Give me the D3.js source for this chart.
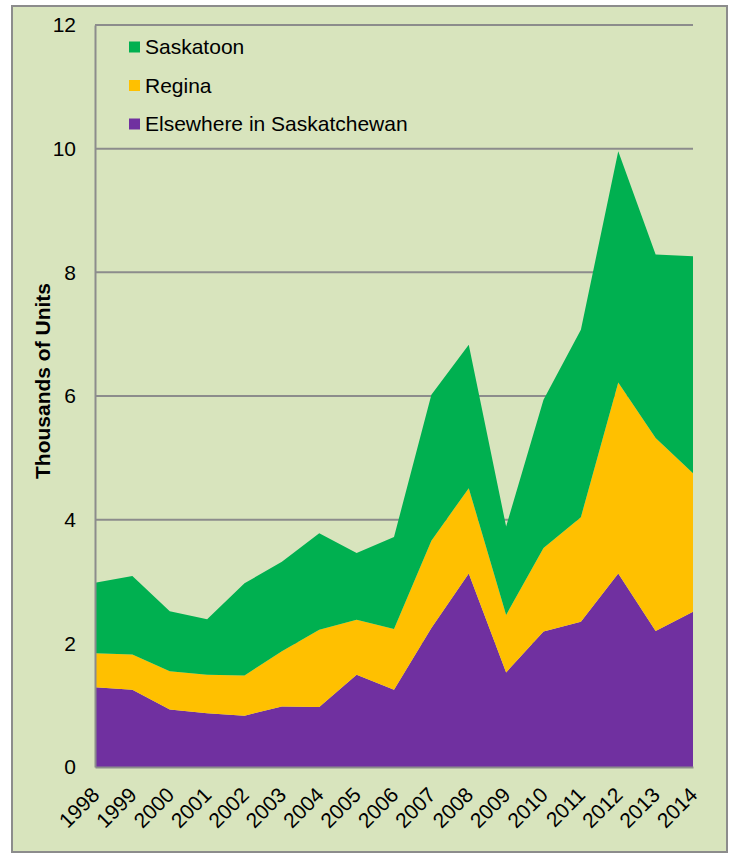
<!DOCTYPE html>
<html>
<head>
<meta charset="utf-8">
<script src="https://cdn.jsdelivr.net/npm/d3@7"></script>
<style>
  body { margin: 0; background: #ffffff; }
  text { font-family: "Liberation Sans", Arial, sans-serif; }
</style>
</head>
<body>
<script>
var w = 732;
var h = 853;

// data, thousands of units
var years = [1998, 1999, 2000, 2001, 2002, 2003, 2004, 2005, 2006, 2007, 2008, 2009, 2010, 2011, 2012, 2013, 2014];
var elsewhere = [1.29, 1.25, 0.93, 0.87, 0.83, 0.98, 0.97, 1.49, 1.25, 2.25, 3.13, 1.53, 2.19, 2.35, 3.13, 2.20, 2.51];
var regina    = [0.55, 0.57, 0.62, 0.62, 0.65, 0.89, 1.25, 0.89, 0.98, 1.41, 1.38, 0.93, 1.35, 1.69, 3.09, 3.12, 2.24];
var saskatoon = [1.14, 1.27, 0.97, 0.90, 1.49, 1.45, 1.56, 1.08, 1.49, 2.36, 2.32, 1.43, 2.40, 3.03, 3.74, 2.97, 3.51];
var yTicks = [0, 2, 4, 6, 8, 10, 12];

var seriesNames = ["Elsewhere in Saskatchewan", "Regina", "Saskatoon"];
var colors = { "Saskatoon": "#00b050", "Regina": "#ffc000", "Elsewhere in Saskatchewan": "#7030a0" };
var legendOrder = ["Saskatoon", "Regina", "Elsewhere in Saskatchewan"];

var rows = years.map(function(y, i) {
  return { year: y, "Elsewhere in Saskatchewan": elsewhere[i], "Regina": regina[i], "Saskatoon": saskatoon[i] };
});

var plot = { left: 95, right: 693, top: 25, bottom: 767 };

var svg = d3.select("body").append("svg")
  .attr("width", w)
  .attr("height", h);

// chart frame
svg.append("rect")
  .attr("x", 12)
  .attr("y", 6)
  .attr("width", 715)
  .attr("height", 846)
  .attr("fill", "#d8e4bd")
  .attr("stroke", "#8c8c8c")
  .attr("stroke-width", 2);

var xScale = d3.scaleLinear()
  .domain([1998, 2014])
  .range([plot.left, plot.right]);

var yScale = d3.scaleLinear()
  .domain([0, 12])
  .range([plot.bottom, plot.top]);

// gridlines behind the areas
svg.append("g")
  .selectAll("line")
  .data(yTicks.filter(function(d) { return d > 0; }))
  .enter()
  .append("line")
  .attr("x1", plot.left)
  .attr("x2", plot.right)
  .attr("y1", function(d) { return yScale(d); })
  .attr("y2", function(d) { return yScale(d); })
  .attr("stroke", "#8c8c8c")
  .attr("stroke-width", 2);

var stack = d3.stack().keys(seriesNames);
var layers = stack(rows);

var area = d3.area()
  .x(function(d) { return xScale(d.data.year); })
  .y0(function(d) { return yScale(d[0]); })
  .y1(function(d) { return yScale(d[1]); });

svg.append("g")
  .selectAll("path")
  .data(layers)
  .enter()
  .append("path")
  .attr("d", area)
  .attr("fill", function(d) { return colors[d.key]; });

// axes
var yAxis = d3.axisLeft(yScale)
  .tickValues(yTicks)
  .tickFormat(d3.format("d"))
  .tickSize(0)
  .tickPadding(19);

var gy = svg.append("g")
  .attr("transform", "translate(" + plot.left + ",0)")
  .call(yAxis);
gy.select(".domain").attr("stroke", "#8c8c8c").attr("stroke-width", 2);
gy.selectAll("text")
  .attr("font-size", 21)
  .attr("font-family", "'Liberation Sans', Arial, sans-serif")
  .attr("fill", "#000");

var xAxis = d3.axisBottom(xScale)
  .tickValues(years)
  .tickFormat(d3.format("d"))
  .tickSize(0)
  .tickSizeOuter(0);

var gx = svg.append("g")
  .attr("transform", "translate(0," + plot.bottom + ")")
  .call(xAxis);
gx.select(".domain").attr("stroke", "#8c8c8c").attr("stroke-width", 2);
gx.selectAll("text")
  .attr("x", 0)
  .attr("y", 0)
  .attr("dy", "0.35em")
  .attr("text-anchor", "end")
  .attr("transform", "translate(0,24) rotate(-45)")
  .attr("font-size", 21)
  .attr("font-family", "'Liberation Sans', Arial, sans-serif")
  .attr("fill", "#000");

// axis title
svg.append("text")
  .attr("transform", "translate(43," + ((plot.top + plot.bottom) / 2 - 15) + ") rotate(-90)")
  .attr("text-anchor", "middle")
  .attr("dy", "0.35em")
  .attr("font-size", 21)
  .attr("font-weight", "bold")
  .attr("fill", "#000")
  .text("Thousands of Units");

// legend
var legend = svg.append("g")
  .selectAll("g")
  .data(legendOrder)
  .enter()
  .append("g")
  .attr("transform", function(d, i) { return "translate(129," + (47 + i * 38.5) + ")"; });

legend.append("rect")
  .attr("x", 0)
  .attr("y", -5.5)
  .attr("width", 11)
  .attr("height", 11)
  .attr("fill", function(d) { return colors[d]; });

legend.append("text")
  .attr("x", 16)
  .attr("y", 0)
  .attr("dy", "0.35em")
  .attr("font-size", 21)
  .attr("fill", "#000")
  .text(function(d) { return d; });
</script>
</body>
</html>
